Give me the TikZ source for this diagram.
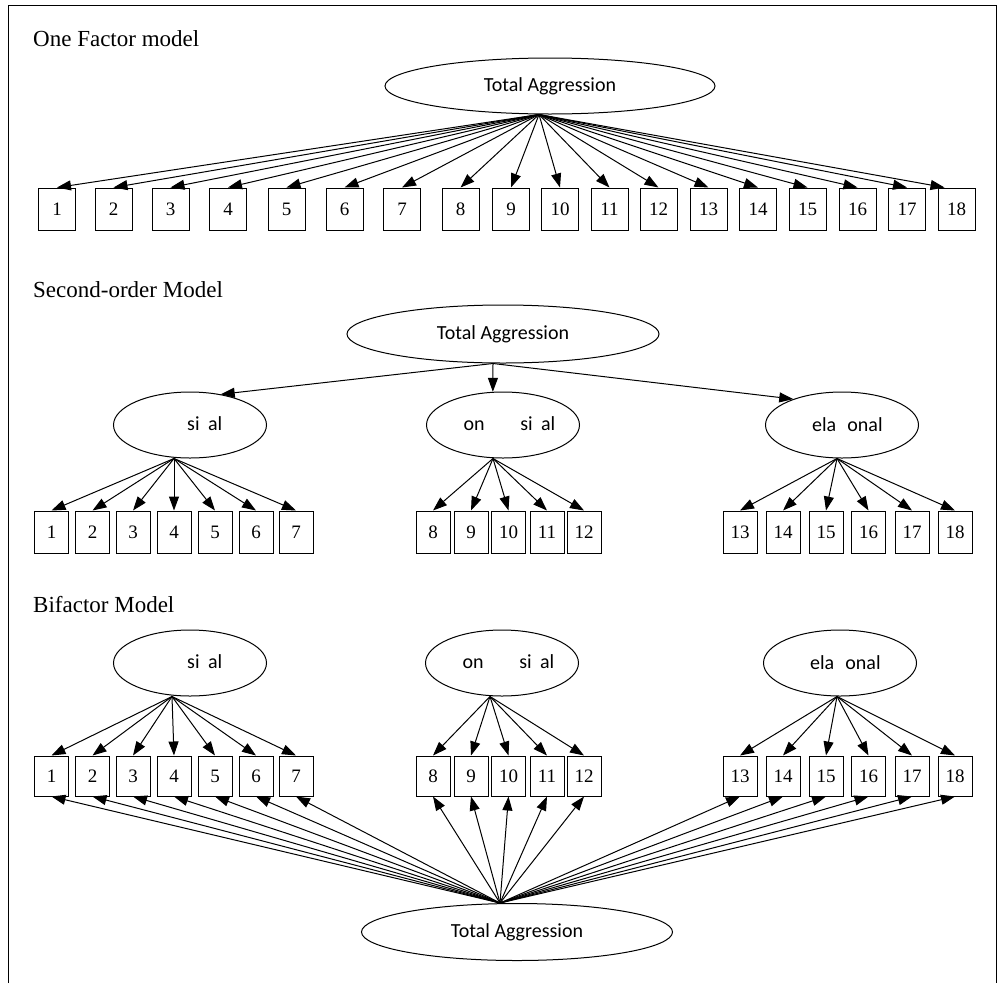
\documentclass[tikz,border=0pt]{standalone}
\usepackage{fontspec}
\setmainfont{Liberation Serif}
\newfontfamily\calfont{Carlito}
\usetikzlibrary{shapes.geometric,arrows.meta,calc}
\begin{document}
\begin{tikzpicture}[x=1pt,y=-1pt,
  box/.style={draw,line width=1pt,minimum width=35pt,minimum height=42pt,inner sep=0pt,font=\fontsize{19}{22}\selectfont},
  lat/.style={draw,line width=1pt,ellipse,inner sep=0pt,font=\calfont\fontsize{20}{24}\selectfont},
  arr/.style={line width=1pt,-{Triangle[length=14pt,width=10pt]}},
  ttl/.style={anchor=base west,inner sep=0pt,font=\fontsize{23}{27}\selectfont}]
\useasboundingbox (0,0) rectangle (998,983);
\draw[line width=1pt] (8,983) -- (8,5) -- (996,5) -- (996,983);

% ---------- One factor model
\node[ttl] (t1) at (33,46) {One Factor model};
\node[lat,minimum width=330pt,minimum height=56pt] (E1) at (550,86) {Total Aggression};
\coordinate (h1) at ([xshift=-11pt]E1.south);
\foreach \i/\x in {1/57,2/113.5,3/170.5,4/228,5/286.5,6/344.5,7/402,8/460.5,9/511,10/560,11/609.5,12/658.5,13/708.5,14/758,15/807.5,16/857.5,17/907,18/956.5}
  \node[box,minimum width=37pt] (a\i) at (\x,209) {\i};
\foreach \i in {1,...,17} \draw[arr] (h1) -- (a\i.north);
\draw[arr] (h1) -- ([xshift=-12pt]a18.north);

% ---------- Second-order model
\node[ttl] (t2) at (33,297) {Second-order Model};
\node[lat,minimum width=312pt,minimum height=58pt] (E2) at (503,334) {Total Aggression};
\node[lat,minimum width=153pt,minimum height=66pt] (P2) at (190,425) {\phantom{Phy}si\phantom{c}al};
\node[lat,minimum width=153pt,minimum height=66pt] (N2) at (503,425) {\phantom{N}on\phantom{-Phy}si\phantom{c}al};
\node[lat,minimum width=153pt,minimum height=66pt] (R2) at (842,425) {\phantom{R}ela\phantom{ti}onal};
\coordinate (h2) at ([xshift=-10pt]E2.south);
\draw[arr] (h2) -- (P2.45);
\draw[arr] (h2) -- (N2.107);
\draw[arr] (h2) -- (R2.152);
\foreach \i/\x in {1/51.5,2/92.5,3/133,4/174,5/215,6/256,7/296,8/433,9/471,10/508.5,11/547,12/584,13/740,14/783,15/826,16/868.5,17/912,18/955}
  \node[box,minimum width=34pt] (b\i) at (\x,532) {\i};
\coordinate (hp2) at ([xshift=-16pt]P2.south);
\coordinate (hn2) at ([xshift=-10pt]N2.south);
\coordinate (hr2) at ([xshift=-5pt]R2.south);
\foreach \i in {1,...,7} \draw[arr] (hp2) -- (b\i.north);
\foreach \i in {8,...,12} \draw[arr] (hn2) -- (b\i.north);
\foreach \i in {13,...,18} \draw[arr] (hr2) -- (b\i.north);

% ---------- Bifactor model
\node[ttl] (t3) at (33,612) {Bifactor Model};
\node[lat,minimum width=153pt,minimum height=66pt] (P3) at (190,663) {\phantom{Phy}si\phantom{c}al};
\node[lat,minimum width=153pt,minimum height=66pt] (N3) at (502,663) {\phantom{N}on\phantom{-Phy}si\phantom{c}al};
\node[lat,minimum width=153pt,minimum height=66pt] (R3) at (840,663) {\phantom{R}ela\phantom{ti}onal};
\foreach \i/\x in {1/51.5,2/92.5,3/133,4/174,5/215,6/256,7/296,8/433,9/471,10/508.5,11/547,12/584,13/740,14/783,15/826,16/868.5,17/912,18/955}
  \node[box,minimum width=34pt,minimum height=40pt] (c\i) at (\x,776) {\i};
\coordinate (hp3) at ([xshift=-18pt]P3.south);
\coordinate (hn3) at ([xshift=-12pt]N3.south);
\coordinate (hr3) at ([xshift=-3pt]R3.south);
\foreach \i in {1,...,7} \draw[arr] (hp3) -- (c\i.north);
\foreach \i in {8,...,12} \draw[arr] (hn3) -- (c\i.north);
\foreach \i in {13,...,18} \draw[arr] (hr3) -- (c\i.north);
\node[lat,minimum width=311pt,minimum height=57pt] (T3) at (517,932) {Total Aggression};
\coordinate (hb) at ([xshift=-17pt]T3.north);
\foreach \i in {1,...,18} \draw[arr] (hb) -- (c\i.south);
\end{tikzpicture}
\end{document}
